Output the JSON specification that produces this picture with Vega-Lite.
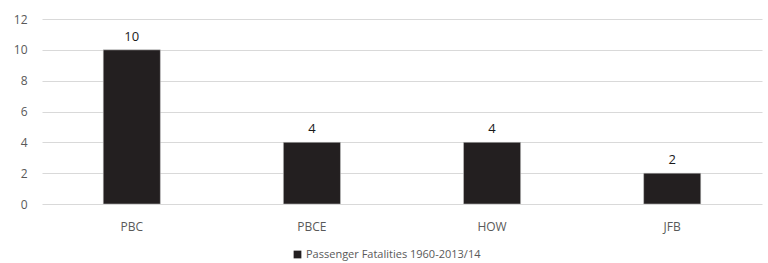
{
  "$schema": "https://vega.github.io/schema/vega-lite/v6.json",
  "width": 720,
  "height": 185,
  "autosize": {"type": "none"},
  "padding": {"left": 42, "top": 19, "right": 6, "bottom": 59},
  "background": "white",
  "config": {
    "view": {"stroke": null},
    "font": "Open Sans"
  },
  "data": {
    "values": [
      {"route": "PBC", "value": 10, "series": "Passenger Fatalities 1960-2013/14"},
      {"route": "PBCE", "value": 4, "series": "Passenger Fatalities 1960-2013/14"},
      {"route": "HOW", "value": 4, "series": "Passenger Fatalities 1960-2013/14"},
      {"route": "JFB", "value": 2, "series": "Passenger Fatalities 1960-2013/14"}
    ]
  },
  "encoding": {
    "x": {
      "field": "route",
      "type": "nominal",
      "sort": null,
      "scale": {"paddingInner": 0.683, "paddingOuter": 0.34},
      "axis": {
        "title": null,
        "labelAngle": 0,
        "ticks": false,
        "domain": false,
        "labelPadding": 17,
        "labelFontSize": 12,
        "labelColor": "#595959",
        "labelFont": "Open Sans"
      }
    },
    "y": {
      "field": "value",
      "type": "quantitative",
      "scale": {"domain": [0, 12]},
      "axis": {
        "title": null,
        "values": [0, 2, 4, 6, 8, 10, 12],
        "ticks": false,
        "domain": false,
        "gridColor": "#d9d9d9",
        "labelPadding": 15,
        "labelFontSize": 12,
        "labelColor": "#595959",
        "labelFont": "Open Sans"
      }
    }
  },
  "layer": [
    {
      "mark": {"type": "bar", "stroke": "#cfcfcf", "strokeWidth": 0.5},
      "encoding": {
        "color": {
          "field": "series",
          "type": "nominal",
          "scale": {"range": ["#231f20"]},
          "legend": {
            "title": null,
            "orient": "none",
            "legendX": 250,
            "legendY": 230,
            "direction": "horizontal",
            "symbolType": "square",
            "symbolSize": 60,
            "symbolStrokeWidth": 0,
            "labelFontSize": 11,
            "labelLimit": 400,
            "labelOffset": 3,
            "labelColor": "#595959",
            "labelFont": "Open Sans"
          }
        }
      }
    },
    {
      "mark": {"type": "text", "dy": -13, "fontSize": 13, "color": "#1a1a1a", "font": "Open Sans"},
      "encoding": {"text": {"field": "value", "type": "quantitative"}}
    }
  ]
}
